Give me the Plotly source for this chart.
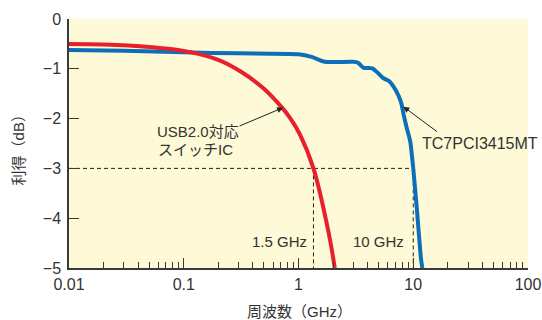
import numpy as np
import plotly.graph_objects as go

# ---- data ----
red_freq = [0.01, 0.02, 0.05, 0.1, 0.2, 0.316, 0.5, 0.7, 0.84, 1.02, 1.35, 1.83, 2.07]
red_gain = [-0.50, -0.51, -0.56, -0.64, -0.82, -1.06, -1.40, -1.75, -1.98, -2.30, -3.0, -4.29, -5.0]

blue_freq = [0.01, 0.03, 0.1, 0.3, 1.0, 1.3, 1.7, 3.0, 3.3, 3.7, 4.4, 5.0, 5.5, 6.1,
             7.0, 7.8, 8.3, 8.8, 9.4, 10.0, 10.7, 11.7, 12.0]
blue_gain = [-0.62, -0.64, -0.67, -0.69, -0.71, -0.76, -0.86, -0.86, -0.88, -0.98, -0.99,
             -1.10, -1.19, -1.24, -1.42, -1.66, -1.95, -2.2, -2.45, -3.0, -3.76, -4.83, -5.0]

red_name = "USB2.0対応"
red_name2 = "スイッチIC"
blue_name = "TC7PCI3415MT"

cut_level = -3
red_cut = 1.35
blue_cut = 10.0
red_cut_label = "1.5 GHz"
blue_cut_label = "10 GHz"

x_ticks = [0.01, 0.1, 1, 10, 100]
x_tick_text = ["0.01", "0.1", "1", "10", "100"]
y_ticks = [0, -1, -2, -3, -4, -5]
y_tick_text = ["0", "−1", "−2", "−3", "−4", "−5"]
x_minor = [m * d for d in [0.01, 0.1, 1, 10] for m in range(2, 10)]

x_title = "周波数（GHz）"
y_title = "利得（dB）"

FONT = "Liberation Sans, Arial, Noto Sans CJK JP"
TXT = "#333333"
AX = "#3a3a3a"

fig = go.Figure()

# dashed guide lines
dash_style = dict(color="#222222", width=1, dash="4px,3px")
fig.add_trace(go.Scatter(x=[0.01, blue_cut], y=[cut_level, cut_level], mode="lines",
                         line=dash_style, hoverinfo="skip", showlegend=False))
fig.add_trace(go.Scatter(x=[red_cut, red_cut], y=[cut_level, -5], mode="lines",
                         line=dash_style, hoverinfo="skip", showlegend=False))
fig.add_trace(go.Scatter(x=[blue_cut, blue_cut], y=[cut_level, -5], mode="lines",
                         line=dash_style, hoverinfo="skip", showlegend=False))

fig.add_trace(go.Scatter(x=blue_freq, y=blue_gain, mode="lines",
                         line=dict(color="#0B6FBA", width=4, shape="spline", smoothing=0.6),
                         showlegend=False))
fig.add_trace(go.Scatter(x=red_freq, y=red_gain, mode="lines",
                         line=dict(color="#E8202A", width=4, shape="spline", smoothing=1.0),
                         showlegend=False))

ann = []
# arrows
ann.append(dict(x=np.log10(0.734), y=-1.78, xref="x", yref="y", text="", showarrow=True,
                ax=-45, ay=19, arrowhead=2, arrowsize=1.2, arrowwidth=1, arrowcolor="#222222"))
ann.append(dict(x=np.log10(8.2), y=-1.76, xref="x", yref="y", text="", showarrow=True,
                ax=35, ay=26, arrowhead=2, arrowsize=1.2, arrowwidth=1, arrowcolor="#222222"))
# labels
lf = dict(family=FONT, size=15, color=TXT)
ann.append(dict(x=-1.2515, y=-2.26, xref="x", yref="y", text=red_name, showarrow=False,
                xanchor="left", yanchor="middle", font=lf))
ann.append(dict(x=-1.245, y=-2.63, xref="x", yref="y", text=red_name2, showarrow=False,
                xanchor="left", yanchor="middle", font=lf))
ann.append(dict(x=1.063, y=-2.49, xref="x", yref="y", text=blue_name, showarrow=False,
                xanchor="left", yanchor="middle", font=dict(family=FONT, size=16, color=TXT)))
ann.append(dict(x=0.0934, y=-4.46, xref="x", yref="y", text=red_cut_label, showarrow=False,
                xanchor="right", yanchor="middle", font=lf))
ann.append(dict(x=0.938, y=-4.46, xref="x", yref="y", text=blue_cut_label, showarrow=False,
                xanchor="right", yanchor="middle", font=lf))
# axis titles
ann.append(dict(x=0.503, y=-0.174, xref="paper", yref="paper", text=x_title, showarrow=False,
                xanchor="center", yanchor="middle", font=dict(family=FONT, size=15, color=TXT)))
ann.append(dict(x=-0.1098, y=0.4866, xref="paper", yref="paper", text=y_title, showarrow=False,
                textangle=-90, xanchor="center", yanchor="middle",
                font=dict(family=FONT, size=15, color=TXT)))

fig.update_layout(
    width=542, height=320,
    margin=dict(l=69, r=14, t=19, b=52),
    paper_bgcolor="white",
    plot_bgcolor="#FEF9D6",
    annotations=ann,
    showlegend=False,
    xaxis=dict(type="log", range=[-2, 2], tickmode="array", tickvals=x_ticks,
               ticktext=x_tick_text, ticks="inside", ticklen=10, tickwidth=1, tickcolor=AX,
               showline=True, linecolor=AX, linewidth=1.5, showgrid=False, zeroline=False,
               automargin=False,
               tickfont=dict(family=FONT, size=16, color=TXT), ticklabelstandoff=1,
               minor=dict(tickmode="array", tickvals=x_minor, ticks="inside", ticklen=6,
                          tickwidth=1, tickcolor=AX, showgrid=False)),
    yaxis=dict(range=[-5, 0], tickmode="array", tickvals=y_ticks, ticktext=y_tick_text,
               ticks="inside", ticklen=10, tickwidth=1, tickcolor=AX,
               showline=True, linecolor=AX, linewidth=1.5, showgrid=False, zeroline=False,
               automargin=False,
               tickfont=dict(family=FONT, size=16, color=TXT), ticklabelstandoff=3),
)

fig.write_html("out.html", config={"displayModeBar": False},
               post_script="document.body.style.margin='0';")
